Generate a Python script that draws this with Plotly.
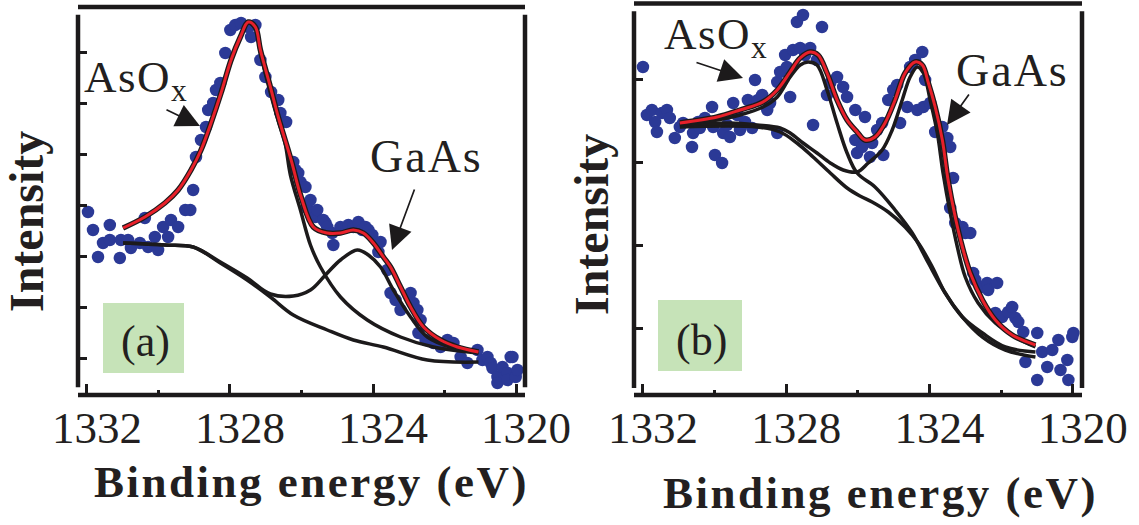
import plotly.graph_objects as go

# ---------------- Panel (a) ----------------
a_dot_E = [1331.97, 1331.83, 1331.69, 1331.55, 1331.36, 1331.36, 1331.08, 1331.05, 1330.85, 1330.77,
           1330.52, 1330.38, 1330.29, 1330.10, 1330.01, 1329.87, 1329.73, 1329.65, 1329.45, 1329.25,
           1329.11, 1329.03, 1328.95, 1328.81, 1328.67, 1328.61, 1328.47, 1328.39, 1328.27, 1328.13,
           1327.99, 1327.85, 1327.69, 1327.49, 1327.41, 1327.29, 1327.15, 1327.01, 1326.85, 1326.65,
           1326.59, 1326.43, 1326.23, 1326.17, 1326.09, 1326.03, 1325.89, 1325.84, 1325.75, 1325.70,
           1325.61, 1325.56, 1325.39, 1325.33, 1325.28, 1325.14, 1325.11, 1324.91, 1324.69, 1324.55,
           1324.41, 1324.30, 1324.21, 1324.13, 1324.02, 1323.85, 1323.79, 1323.60, 1323.51, 1323.37,
           1323.23, 1322.95, 1322.87, 1322.76, 1322.67, 1322.73, 1322.53, 1322.31, 1322.11, 1321.92,
           1321.75, 1321.55, 1321.36, 1321.08, 1320.94, 1320.80, 1320.71, 1320.66, 1320.52, 1320.52,
           1320.38, 1320.24, 1320.24, 1320.15, 1320.10, 1320.01, 1319.96]
a_dot_I = [181, 163, 136, 150, 168, 153, 135, 153, 153, 145,
           150, 175, 146, 156, 143, 166, 156, 173, 166, 183,
           183, 203, 236, 253, 266, 283, 290, 303, 310, 340,
           363, 368, 370, 366, 356, 368, 333, 316, 301, 293,
           280, 271, 231, 223, 220, 211, 206, 185, 193, 180,
           176, 183, 173, 170, 166, 160, 148, 166, 168, 166,
           171, 163, 166, 163, 158, 141, 151, 123, 100, 93,
           83, 100, 90, 83, 73, 60, 53, 50, 46, 53,
           50, 36, 30, 43, 33, 36, 30, 25, 16, 10,
           26, 20, 13, 36, 36, 16, 23]

a_env_E = [1330.99, 1330.38, 1329.82, 1329.45, 1329.09, 1328.81, 1328.53, 1328.25, 1327.97, 1327.71,
           1327.49, 1327.29, 1327.15, 1326.87, 1326.65, 1326.29, 1326.01, 1325.67, 1325.28, 1324.91,
           1324.55, 1324.27, 1323.99, 1323.71, 1323.51, 1323.23, 1322.95, 1322.59, 1322.11, 1321.64,
           1321.05]
a_env_I = [165, 176, 190, 203, 223, 243, 270, 300, 333, 356,
           371, 366, 343, 306, 276, 233, 196, 166, 160, 160,
           163, 160, 150, 136, 126, 106, 86, 66, 53, 46,
           41]

a_asox_E = [1330.99, 1330.38, 1329.82, 1329.45, 1329.09, 1328.81, 1328.53, 1328.25, 1327.97, 1327.71,
            1327.49, 1327.29, 1327.15, 1326.87, 1326.65, 1326.46, 1326.31, 1326.03, 1325.75, 1325.47,
            1324.91, 1324.16, 1323.23, 1322.31, 1321.05]
a_asox_I = [165, 176, 190, 203, 223, 243, 270, 300, 333, 356,
            370, 364, 340, 300, 272, 250, 218, 183, 148, 126,
            96, 73, 56, 46, 40]

a_gaas_E = [1330.99, 1329.82, 1329.03, 1328.27, 1327.52, 1326.87, 1326.23, 1325.75, 1325.33, 1324.91,
            1324.44, 1324.13, 1323.79, 1323.43, 1322.95, 1322.48, 1321.75, 1321.05]
a_gaas_I = [150, 148, 146, 131, 115, 99, 97, 103, 118, 133,
            143, 138, 126, 103, 76, 56, 45, 41]

a_bg_E = [1330.99, 1329.82, 1329.03, 1328.27, 1327.52, 1326.87, 1326.23, 1325.28, 1324.55, 1323.71,
          1322.48, 1321.05]
a_bg_I = [150, 148, 146, 130, 113, 96, 78, 63, 53, 46,
          33, 31]

# ---------------- Panel (b) ----------------
b_dot_E = [1332.00, 1331.89, 1331.75, 1331.66, 1331.61, 1331.47, 1331.33, 1331.25, 1331.11, 1330.97,
           1330.88, 1330.63, 1330.60, 1330.46, 1330.41, 1330.27, 1330.07, 1330.04, 1329.99, 1329.79,
           1329.76, 1329.65, 1329.57, 1329.48, 1329.37, 1329.29, 1329.15, 1329.07, 1328.95, 1328.87,
           1328.79, 1328.67, 1328.53, 1328.45, 1328.25, 1328.25, 1328.17, 1328.03, 1327.98, 1327.89,
           1327.81, 1327.70, 1327.53, 1327.61, 1327.47, 1327.33, 1327.25, 1327.14, 1327.00, 1326.86,
           1326.77, 1326.58, 1326.41, 1326.30, 1326.07, 1326.02, 1326.07, 1325.80, 1325.88, 1325.60,
           1325.66, 1325.46, 1325.29, 1325.32, 1325.15, 1325.01, 1324.82, 1324.90, 1324.62, 1324.54,
           1324.40, 1324.34, 1324.20, 1324.17, 1324.12, 1323.98, 1323.84, 1323.64, 1323.50, 1323.42,
           1323.34, 1323.42, 1323.28, 1323.08, 1323.00, 1322.86, 1322.78, 1322.72, 1322.52, 1322.39,
           1322.36, 1322.11, 1322.16, 1321.97, 1321.80, 1321.69, 1321.60, 1321.52, 1321.38, 1321.32,
           1320.99, 1320.85, 1320.71, 1320.99, 1320.57, 1320.40, 1320.34, 1320.15, 1320.12, 1320.01,
           1319.98]
b_dot_I = [328, 280, 285, 273, 263, 282, 285, 277, 257, 268,
           272, 248, 262, 273, 267, 277, 288, 268, 240, 232,
           262, 270, 258, 292, 280, 265, 273, 295, 267, 315,
           295, 300, 285, 292, 262, 313, 323, 340, 328, 298,
           345, 373, 380, 347, 340, 347, 270, 335, 368, 300,
           312, 318, 308, 298, 255, 242, 285, 278, 248, 252,
           238, 265, 240, 272, 295, 305, 272, 310, 288, 328,
           335, 285, 343, 288, 315, 292, 263, 268, 257, 248,
           217, 187, 172, 168, 162, 162, 122, 115, 108, 112,
           105, 112, 82, 78, 83, 88, 77, 73, 63, 33,
           62, 43, 28, 15, 45, 55, 25, 35, 15, 58,
           62]

b_env_E = [1330.97, 1329.93, 1329.29, 1328.65, 1328.25, 1327.89, 1327.61, 1327.33, 1327.11, 1326.86,
           1326.58, 1326.30, 1326.02, 1325.80, 1325.52, 1325.24, 1324.96, 1324.68, 1324.40, 1324.20,
           1324.03, 1323.84, 1323.64, 1323.48, 1323.28, 1323.08, 1322.86, 1322.52, 1322.16, 1321.69,
           1321.04]
b_env_I = [272, 278, 285, 293, 305, 323, 337, 343, 340, 322,
           295, 275, 263, 255, 258, 272, 295, 322, 333, 330,
           312, 288, 255, 215, 178, 148, 122, 95, 75, 60,
           50]

b_asox_E = [1330.97, 1329.93, 1329.29, 1328.65, 1328.25, 1327.89, 1327.61, 1327.39, 1327.14, 1326.86,
            1326.58, 1326.30, 1326.02, 1325.52, 1324.96, 1324.48, 1324.03, 1323.56, 1323.08, 1322.52,
            1321.88, 1321.04]
b_asox_I = [270, 275, 280, 288, 298, 318, 330, 333, 330, 305,
            272, 242, 222, 208, 185, 162, 132, 102, 78, 62,
            48, 43]

b_gaas_E = [1330.97, 1329.57, 1328.81, 1328.17, 1327.89, 1327.53, 1327.14, 1326.77, 1326.41, 1326.02,
            1325.71, 1325.32, 1325.04, 1324.76, 1324.54, 1324.34, 1324.17, 1323.98, 1323.78, 1323.62,
            1323.42, 1323.22, 1323.00, 1322.64, 1322.16, 1321.60, 1321.04]
b_gaas_I = [270, 272, 270, 267, 262, 252, 242, 232, 225, 223,
            232, 245, 265, 295, 318, 328, 322, 295, 262, 222,
            182, 148, 118, 92, 72, 58, 48]

b_bg_E = [1330.97, 1328.81, 1328.17, 1327.70, 1327.25, 1326.77, 1326.30, 1325.94, 1325.60, 1325.15,
          1324.68, 1324.31, 1323.92, 1323.56, 1323.08, 1322.52, 1321.88, 1321.04]
b_bg_I = [268, 268, 263, 252, 238, 222, 207, 199, 193, 183,
          168, 152, 128, 102, 78, 58, 45, 38]

x_ticks = [1332, 1328, 1324, 1320]
x_minor = [1330, 1326, 1322]
a_yticks = [35, 86, 137, 188, 239, 290, 341]
b_yticks = [67, 150, 233, 316]

# ---------------- styling ----------------
W, H = 1139, 525
def PX(x):
    return x / W
def PY(y):
    return 1 - y / H

DOT = '#2b3996'
RED = '#e8202a'
BLK = '#1c1a1b'
SERIF = 'Times New Roman, Liberation Serif, Times, serif'

fig = go.Figure()

def add_panel(xa, ya, dE, dI, env, asox, gaas, bg):
    fig.add_trace(go.Scatter(x=dE, y=dI, mode='markers', xaxis=xa, yaxis=ya,
                             marker=dict(size=12.5, color=DOT, line=dict(width=0)),
                             showlegend=False, hoverinfo='skip'))
    for (E, I) in (bg, gaas, asox):
        fig.add_trace(go.Scatter(x=E, y=I, mode='lines', xaxis=xa, yaxis=ya,
                                 line=dict(color=BLK, width=3.5, shape='spline', smoothing=1.0),
                                 showlegend=False, hoverinfo='skip'))
    fig.add_trace(go.Scatter(x=env[0], y=env[1], mode='lines', xaxis=xa, yaxis=ya,
                             line=dict(color=BLK, width=5.5, shape='spline', smoothing=1.0),
                             showlegend=False, hoverinfo='skip'))
    fig.add_trace(go.Scatter(x=env[0], y=env[1], mode='lines', xaxis=xa, yaxis=ya,
                             line=dict(color=RED, width=3, shape='spline', smoothing=1.0),
                             showlegend=False, hoverinfo='skip'))

add_panel('x', 'y', a_dot_E, a_dot_I, (a_env_E, a_env_I), (a_asox_E, a_asox_I),
          (a_gaas_E, a_gaas_I), (a_bg_E, a_bg_I))
add_panel('x2', 'y2', b_dot_E, b_dot_I, (b_env_E, b_env_I), (b_asox_E, b_asox_I),
          (b_gaas_E, b_gaas_I), (b_bg_E, b_bg_I))

tickfont = dict(family=SERIF, size=45, color='#231f20')
def xaxis(dom, rng, anchor):
    return dict(domain=dom, range=rng, showgrid=False, zeroline=False, showline=False,
                anchor=anchor, automargin=False,
                tickmode='array', tickvals=x_ticks, ticktext=[str(t) for t in x_ticks],
                ticks='inside', ticklen=11, tickwidth=3, tickcolor=BLK, tickfont=tickfont,
                ticklabelshift=-10, ticklabelstandoff=2,
                minor=dict(tickmode='array', tickvals=x_minor, ticks='inside', ticklen=5,
                           tickwidth=3, tickcolor=BLK, showgrid=False))
def yaxis(dom, rng, tv, anchor):
    return dict(domain=dom, range=rng, showgrid=False, zeroline=False, showline=False,
                tickmode='array', tickvals=tv, showticklabels=False, anchor=anchor,
                automargin=False,
                ticks='inside', ticklen=9, tickwidth=3, tickcolor=BLK)

fig.update_layout(
    width=W, height=H, margin=dict(l=0, r=0, t=0, b=0, autoexpand=False),
    paper_bgcolor='white', plot_bgcolor='white',
    xaxis=xaxis([PX(78), PX(525)], [1332.25, 1319.75], 'y'),
    yaxis=yaxis([PY(395), PY(7)], [-2, 386], a_yticks, 'x'),
    xaxis2=xaxis([PX(634), PX(1082)], [1332.25, 1319.74], 'y2'),
    yaxis2=yaxis([PY(395), PY(3.5)], [0, 391.5], b_yticks, 'x2'),
)

# frames
shapes = []
for xr, yr, (lo, hi) in (('x domain', 'y domain', (0.02, 0.98)), ('x2 domain', 'y2 domain', (0.018, 0.98))):
    ln = dict(color=BLK, width=4.5)
    shapes += [
        dict(type='line', xref=xr, yref=yr, x0=0, x1=1, y0=1, y1=1, line=ln, layer='above'),
        dict(type='line', xref=xr, yref=yr, x0=0, x1=1, y0=0, y1=0, line=ln, layer='above'),
        dict(type='line', xref=xr, yref=yr, x0=0, x1=0, y0=lo, y1=hi, line=ln, layer='above'),
        dict(type='line', xref=xr, yref=yr, x0=1, x1=1, y0=lo, y1=hi, line=ln, layer='above'),
    ]
# panel label boxes
shapes += [
    dict(type='rect', xref='paper', yref='paper', x0=PX(103), x1=PX(184), y0=PY(373), y1=PY(303),
         fillcolor='#c6e3b8', line=dict(width=0), layer='below'),
    dict(type='rect', xref='paper', yref='paper', x0=PX(658), x1=PX(742), y0=PY(371), y1=PY(300),
         fillcolor='#c6e3b8', line=dict(width=0), layer='below'),
]
fig.update_layout(shapes=shapes)

ann = []
def txt(x, y, s, size, bold=False, angle=0, xanchor='center'):
    ann.append(dict(xref='paper', yref='paper', x=PX(x), y=PY(y), text=s, showarrow=False,
                    xanchor=xanchor, yanchor='middle', textangle=angle,
                    font=dict(family=SERIF, size=size, color='#231f20',
                              weight='bold' if bold else 'normal')))

title = '<span style="letter-spacing:2.5px">Binding energy (eV)</span>'
txt(311, 481.5, title, 45, bold=True)
txt(880, 492.5, title, 45, bold=True)
txt(27, 222, 'Intensity', 48, bold=True, angle=-90)
txt(591, 225, 'Intensity', 48, bold=True, angle=-90)
txt(145, 341, '(a)', 44)
txt(701.5, 340, '(b)', 44)
asox = '<span style="letter-spacing:1.5px">AsO</span><sub>x</sub>'
gaas = '<span style="letter-spacing:2px">GaAs</span>'
txt(82, 80, asox, 45, xanchor='left')
txt(662, 37, asox, 45, xanchor='left')
txt(426, 156.5, gaas, 46)
txt(1012, 70.5, gaas, 46)

def arrow(tx, ty, ax, ay):
    ann.append(dict(xref='paper', yref='paper', x=PX(tx), y=PY(ty), ax=ax, ay=ay, text='',
                    showarrow=True, arrowhead=2, arrowsize=2.8, arrowwidth=1.7,
                    arrowcolor=BLK, standoff=0, startstandoff=0))
arrow(200, 126, -35, -17)
arrow(392, 250, 23, -62)
arrow(743, 78, -48, -16)
arrow(947, 125, 23, -32)
fig.update_layout(annotations=ann)

fig.write_html("out.html", config={'displayModeBar': False},
               post_script="document.body.style.margin='0';")
